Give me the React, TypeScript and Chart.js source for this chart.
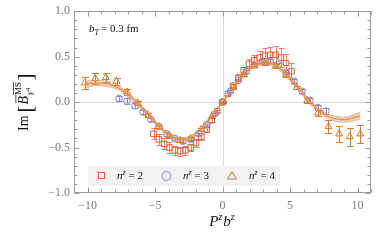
import React, { useEffect, useRef } from 'react';
import { Chart, registerables } from 'chart.js';

Chart.register(...registerables);

// ---- data ----
const n2X = [-5.11, -4.71, -4.32, -3.93, -3.53, -3.14, -2.75, -2.36, -1.96, -1.57, -1.18, -0.79, -0.39, 0, 0.39, 0.79, 1.18, 1.57, 1.96, 2.36, 2.75, 3.14, 3.53, 3.93, 4.32, 4.71, 5.11];
const n2Y = [-0.35, -0.41, -0.46, -0.50, -0.53, -0.54, -0.53, -0.50, -0.45, -0.38, -0.30, -0.20, -0.10, 0, 0.09, 0.18, 0.27, 0.35, 0.42, 0.46, 0.49, 0.51, 0.52, 0.52, 0.49, 0.43, 0.34];
const n2Err = [0.06, 0.06, 0.06, 0.06, 0.05, 0.05, 0.05, 0.04, 0.04, 0.04, 0.03, 0.02, 0.01, 0.005, 0.01, 0.02, 0.03, 0.04, 0.05, 0.06, 0.07, 0.08, 0.09, 0.10, 0.10, 0.10, 0.09];

const n3X = [-7.66, -7.07, -6.48, -5.89, -5.30, -4.71, -4.12, -3.53, -2.95, -2.36, -1.77, -1.18, -0.59, 0, 0.59, 1.18, 1.77, 2.36, 2.95, 3.53, 4.12, 4.71, 5.30, 5.89, 6.48, 7.07, 7.66];
const n3Y = [0.04, 0.01, -0.04, -0.11, -0.19, -0.27, -0.35, -0.40, -0.43, -0.41, -0.35, -0.25, -0.13, 0, 0.12, 0.24, 0.34, 0.41, 0.45, 0.45, 0.41, 0.33, 0.23, 0.12, 0.02, -0.06, -0.10];
const n3Err = [0.03, 0.03, 0.025, 0.02, 0.02, 0.02, 0.02, 0.02, 0.02, 0.02, 0.015, 0.01, 0.01, 0.005, 0.01, 0.01, 0.015, 0.02, 0.02, 0.02, 0.02, 0.02, 0.02, 0.02, 0.025, 0.03, 0.03];

const n4X = [-10.21, -9.42, -8.64, -7.85, -7.07, -6.28, -5.50, -4.71, -3.93, -3.14, -2.36, -1.57, -0.79, 0, 0.79, 1.57, 2.36, 3.14, 3.93, 4.71, 5.50, 6.28, 7.07, 7.85, 8.64, 9.42, 10.21];
const n4Y = [0.21, 0.26, 0.27, 0.23, 0.11, -0.01, -0.14, -0.27, -0.37, -0.42, -0.40, -0.30, -0.16, 0, 0.16, 0.30, 0.40, 0.43, 0.40, 0.30, 0.16, 0.02, -0.12, -0.27, -0.35, -0.38, -0.35];
const n4Err = [0.07, 0.06, 0.05, 0.04, 0.03, 0.025, 0.02, 0.02, 0.02, 0.02, 0.015, 0.015, 0.01, 0.01, 0.01, 0.015, 0.015, 0.02, 0.02, 0.02, 0.02, 0.025, 0.03, 0.07, 0.09, 0.10, 0.10];

const curveX = [-10.2, -9.75, -9.25, -8.75, -8.25, -7.75, -7.25, -6.75, -6.25, -5.75, -5.25, -4.75, -4.25, -3.75, -3.25, -2.75, -2.25, -1.75, -1.25, -0.75, -0.25, 0.25, 0.75, 1.25, 1.75, 2.25, 2.75, 3.25, 3.75, 4.25, 4.75, 5.25, 5.75, 6.25, 6.75, 7.25, 7.75, 8.25, 8.75, 9.25, 9.75, 10.2];
const curveY = [0.19, 0.205, 0.21, 0.205, 0.19, 0.16, 0.11, 0.05, -0.02, -0.10, -0.18, -0.26, -0.33, -0.38, -0.41, -0.41, -0.38, -0.32, -0.24, -0.14, -0.05, 0.05, 0.14, 0.24, 0.33, 0.39, 0.43, 0.44, 0.42, 0.37, 0.30, 0.22, 0.13, 0.04, -0.04, -0.10, -0.15, -0.18, -0.19, -0.19, -0.17, -0.15];
const curveErr = [0.04, 0.035, 0.03, 0.03, 0.03, 0.025, 0.025, 0.025, 0.025, 0.025, 0.025, 0.025, 0.025, 0.025, 0.025, 0.025, 0.02, 0.02, 0.02, 0.015, 0.01, 0.01, 0.015, 0.02, 0.02, 0.02, 0.025, 0.025, 0.025, 0.025, 0.025, 0.025, 0.025, 0.025, 0.025, 0.025, 0.025, 0.03, 0.03, 0.03, 0.035, 0.04];

const xTickValues = [-10, -5, 0, 5, 10];
const yTickValues = [-1, -0.5, 0, 0.5, 1];
const legendLabels = ['2', '3', '4'];

const C_N2 = 'rgb(232,90,52)';
const C_N3 = 'rgb(140,125,196)';
const C_N4 = 'rgb(212,118,40)';
const SERIF = '"Liberation Serif", serif';

const pts = (xs: number[], ys: number[]) => xs.map((x, i) => ({ x, y: ys[i] }));
const fmt = (v: number, d: number) => (v < 0 ? '\u2212' + Math.abs(v).toFixed(d) : v.toFixed(d));

const errorBarPlugin = {
  id: 'errorBars',
  beforeDatasetDraw(chart: any, args: any) {
    const ds = chart.data.datasets[args.index];
    if (!ds.errors) return;
    const { ctx, chartArea: a } = chart;
    const y = chart.scales.y;
    ctx.save();
    ctx.beginPath();
    ctx.rect(a.left, a.top, a.right - a.left, a.bottom - a.top);
    ctx.clip();
    ctx.strokeStyle = ds.errColor;
    ctx.lineWidth = 1;
    const cap = ds.capHalf;
    args.meta.data.forEach((el: any, i: number) => {
      const d = ds.data[i];
      const e = ds.errors[i];
      const px = Math.round(el.x) + 0.5;
      const yt = Math.round(y.getPixelForValue(d.y + e)) + 0.5;
      const yb = Math.round(y.getPixelForValue(d.y - e)) + 0.5;
      ctx.beginPath();
      ctx.moveTo(px, yt);
      ctx.lineTo(px, yb);
      ctx.moveTo(px - cap, yt);
      ctx.lineTo(px + cap, yt);
      ctx.moveTo(px - cap, yb);
      ctx.lineTo(px + cap, yb);
      ctx.stroke();
    });
    ctx.restore();
  },
};

const framePlugin = {
  id: 'frameDeco',
  beforeDatasetsDraw(chart: any) {
    const { ctx, chartArea: a } = chart;
    const { x, y } = chart.scales;
    ctx.save();
    ctx.strokeStyle = '#dadada';
    ctx.lineWidth = 1;
    const x0 = Math.round(x.getPixelForValue(0)) + 0.5;
    const y0 = Math.round(y.getPixelForValue(0)) + 0.5;
    ctx.beginPath();
    ctx.moveTo(x0, a.top);
    ctx.lineTo(x0, a.bottom);
    ctx.moveTo(a.left, y0);
    ctx.lineTo(a.right, y0);
    ctx.stroke();
    ctx.restore();
  },
  afterDatasetsDraw(chart: any) {
    const { ctx, chartArea: a } = chart;
    const { x, y } = chart.scales;
    ctx.save();
    ctx.strokeStyle = '#9a9a9a';
    ctx.lineWidth = 1;
    const L = Math.round(a.left) + 0.5, R = Math.round(a.right) - 0.5;
    const T = Math.round(a.top) + 0.5, B = Math.round(a.bottom) - 0.5;
    ctx.strokeRect(L, T, R - L, B - T);
    ctx.beginPath();
    for (let v = -11; v <= 11; v++) {
      const len = v % 5 === 0 ? 5 : 3;
      const px = Math.round(x.getPixelForValue(v)) + 0.5;
      ctx.moveTo(px, B); ctx.lineTo(px, B - len);
      ctx.moveTo(px, T); ctx.lineTo(px, T + len);
    }
    for (let k = -10; k <= 10; k++) {
      const len = k % 5 === 0 ? 5 : 3;
      const py = Math.round(y.getPixelForValue(k / 10)) + 0.5;
      ctx.moveTo(L, py); ctx.lineTo(L + len, py);
      ctx.moveTo(R, py); ctx.lineTo(R - len, py);
    }
    ctx.stroke();
    ctx.restore();
  },
  afterDraw(chart: any) {
    const { ctx } = chart;
    ctx.save();
    ctx.fillStyle = '#111';
    ctx.textBaseline = 'alphabetic';

    // annotation b_T = 0.3 fm
    let cx = 89;
    ctx.font = `italic 11px ${SERIF}`;
    ctx.fillText('b', cx, 32); cx += ctx.measureText('b').width;
    ctx.font = `italic 8px ${SERIF}`;
    ctx.fillText('T', cx, 35); cx += ctx.measureText('T').width + 2;
    ctx.font = `11px ${SERIF}`;
    ctx.fillText('= 0.3 fm', cx, 32);

    // legend
    ctx.fillStyle = '#f2f2f2';
    ctx.fillRect(88, 166, 192, 20);
    ctx.lineWidth = 1;
    const ly = 176;
    ctx.strokeStyle = C_N2;
    ctx.strokeRect(98.5, 172.5, 6, 6);
    ctx.strokeStyle = C_N3;
    ctx.beginPath(); ctx.arc(166.5, ly, 4.5, 0, Math.PI * 2); ctx.stroke();
    ctx.strokeStyle = C_N4;
    ctx.beginPath();
    ctx.moveTo(232, ly - 4.5); ctx.lineTo(236.5, ly + 3); ctx.lineTo(227.5, ly + 3); ctx.closePath(); ctx.stroke();
    const lx = [117, 183, 249];
    ctx.fillStyle = '#111';
    legendLabels.forEach((lab, i) => {
      let tx = lx[i];
      ctx.font = `italic 11px ${SERIF}`;
      ctx.fillText('n', tx, 179); tx += ctx.measureText('n').width;
      ctx.font = `italic 8px ${SERIF}`;
      ctx.fillText('z', tx, 175); tx += ctx.measureText('z').width + 3;
      ctx.font = `11px ${SERIF}`;
      ctx.fillText('= ' + lab, tx, 179);
    });

    // x-axis title P^z b^z
    const parts: [string, string, number][] = [
      ['P', `italic 15px ${SERIF}`, 0],
      ['z', `italic 10px ${SERIF}`, -6],
      ['b', `italic 15px ${SERIF}`, 0],
      ['z', `italic 10px ${SERIF}`, -6],
    ];
    let tw = 0;
    parts.forEach(([t, f]) => { ctx.font = f; tw += ctx.measureText(t).width; });
    tw += 1;
    cx = 222 - tw / 2;
    parts.forEach(([t, f, dy], i) => {
      ctx.font = f;
      ctx.fillText(t, cx, 226 + dy);
      cx += ctx.measureText(t).width + (i === 1 ? 1 : 0);
    });

    // y-axis title Im[ B^MS_{γ4} ]
    ctx.translate(28, 131);
    ctx.rotate(-Math.PI / 2);
    cx = 0;
    ctx.font = `14px ${SERIF}`;
    ctx.fillText('Im', cx, 0); cx += ctx.measureText('Im').width + 3;
    ctx.font = `21px ${SERIF}`;
    ctx.fillText('[', cx, 4); cx += ctx.measureText('[').width + 1;
    ctx.font = `italic 14px ${SERIF}`;
    ctx.fillText('B', cx, 0);
    const bw = ctx.measureText('B').width;
    ctx.fillRect(cx + 1.5, -12.5, bw - 0.5, 0.8);
    cx += bw + 1;
    ctx.font = `9px ${SERIF}`;
    ctx.fillText('MS', cx, -7);
    const msw = ctx.measureText('MS').width;
    ctx.fillRect(cx, -15, msw, 0.7);
    ctx.font = `italic 9px ${SERIF}`;
    ctx.fillText('\u03b3', cx, 4);
    const gw = ctx.measureText('\u03b3').width;
    ctx.font = `7px ${SERIF}`;
    ctx.fillText('4', cx + gw, 2);
    cx += msw + 1.5;
    ctx.font = `21px ${SERIF}`;
    ctx.fillText(']', cx, 4);
    ctx.restore();
  },
};

export default function App() {
  const ref = useRef<HTMLCanvasElement | null>(null);
  useEffect(() => {
    if (!ref.current) return;
    const upper = curveX.map((x, i) => ({ x, y: curveY[i] + curveErr[i] }));
    const lower = curveX.map((x, i) => ({ x, y: curveY[i] - curveErr[i] }));
    const chart = new Chart(ref.current, {
      type: 'scatter',
      data: {
        datasets: [
          {
            type: 'line', data: upper, order: 0, showLine: true, pointRadius: 0,
            borderColor: 'rgba(214,140,80,0.55)', borderWidth: 0.8, tension: 0.4,
            backgroundColor: 'rgba(228,160,100,0.5)', fill: '+1',
          } as any,
          {
            type: 'line', data: lower, order: 0, showLine: true, pointRadius: 0,
            borderColor: 'rgba(214,140,80,0.55)', borderWidth: 0.8, tension: 0.4, fill: false,
          } as any,
          {
            type: 'line', data: pts(curveX, curveY), order: 0, showLine: true, pointRadius: 0,
            borderColor: 'rgba(205,125,60,0.9)', borderWidth: 1.2, tension: 0.4, fill: false,
          } as any,
          {
            data: pts(n4X, n4Y), errors: n4Err, errColor: 'rgba(212,118,40,0.95)', capHalf: 3.5, order: 1,
            pointStyle: 'triangle', pointRadius: 4, borderWidth: 1, borderColor: C_N4,
            backgroundColor: 'rgba(0,0,0,0)',
          } as any,
          {
            data: pts(n3X, n3Y), errors: n3Err, errColor: 'rgba(140,125,196,0.9)', capHalf: 3, order: 2,
            pointStyle: 'circle', pointRadius: 3.3, borderWidth: 1, borderColor: C_N3,
            backgroundColor: 'rgba(0,0,0,0)',
          } as any,
          {
            data: pts(n2X, n2Y), errors: n2Err, errColor: 'rgba(232,90,52,0.75)', capHalf: 3, order: 3,
            pointStyle: 'rect', pointRadius: 3.9, borderWidth: 1, borderColor: C_N2,
            backgroundColor: 'rgba(0,0,0,0)',
          } as any,
        ],
      },
      options: {
        animation: false,
        responsive: false,
        layout: { padding: { top: 10, right: 11, left: 0, bottom: 0 } },
        plugins: { legend: { display: false }, tooltip: { enabled: false } },
        scales: {
          x: {
            type: 'linear', min: -11, max: 11,
            grid: { display: false, drawTicks: false }, border: { display: false },
            afterBuildTicks: (axis: any) => { axis.ticks = xTickValues.map((v) => ({ value: v })); },
            afterFit: (axis: any) => { axis.height = 50; },
            ticks: {
              autoSkip: false, maxRotation: 0, padding: 6, color: '#7a7a7a',
              font: { family: 'Liberation Serif', size: 12 },
              callback: (v: any) => fmt(Number(v), 0),
            },
          },
          y: {
            type: 'linear', min: -1, max: 1,
            grid: { display: false, drawTicks: false }, border: { display: false },
            afterBuildTicks: (axis: any) => { axis.ticks = yTickValues.map((v) => ({ value: v })); },
            afterFit: (axis: any) => { axis.width = 74; },
            ticks: {
              autoSkip: false, padding: 4, color: '#7a7a7a',
              font: { family: 'Liberation Serif', size: 12 },
              callback: (v: any) => fmt(Number(v), 1),
            },
          },
        },
      } as any,
      plugins: [errorBarPlugin, framePlugin],
    });
    return () => chart.destroy();
  }, []);
  return (
    <div style={{ position: 'absolute', left: 0, top: 0, width: 382, height: 243, background: '#fff' }}>
      <canvas ref={ref} width={382} height={243} />
    </div>
  );
}
